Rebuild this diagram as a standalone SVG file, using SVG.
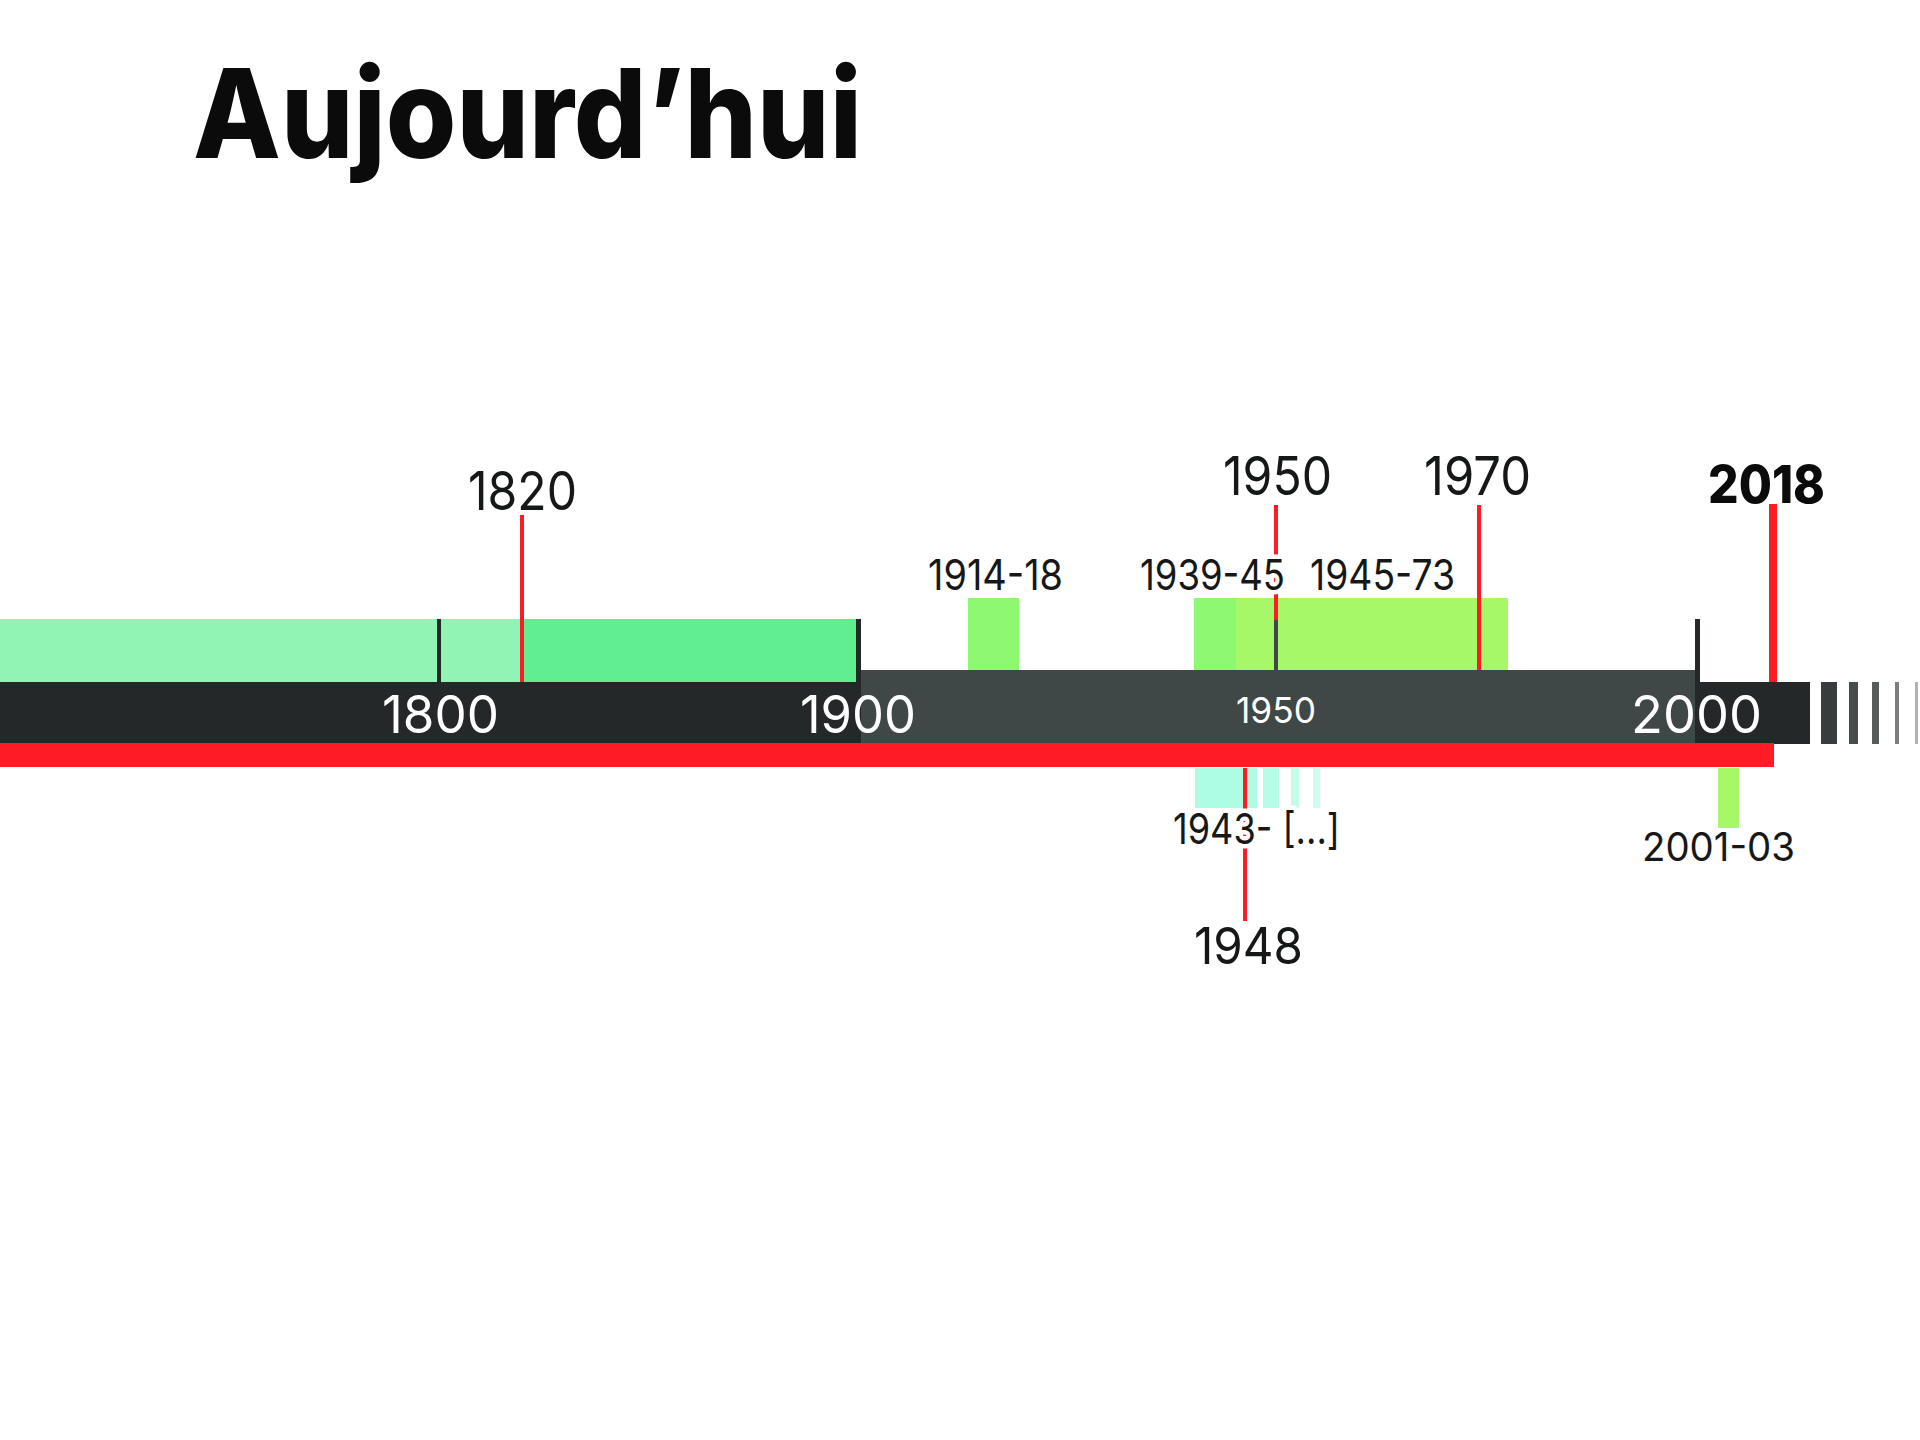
<svg xmlns="http://www.w3.org/2000/svg" width="1920" height="1440" viewBox="0 0 1920 1440">
  <style>
    .lbl { font-family: Inter, "Noto Sans", sans-serif; font-weight: 400; fill: #161818; }
    .big { font-size: 54px; }
    .mid { font-size: 42px; }
    .axis { font-family: Inter, "Noto Sans", sans-serif; font-weight: 400; fill: #ffffff; font-size: 52px; }
    .halo { stroke: #ffffff; stroke-width: 9px; stroke-linejoin: round; paint-order: stroke; }
    .red { fill: #fe1c24; }
    .tick { fill: #242828; }
  </style>
  <rect width="1920" height="1440" fill="#ffffff"/>

  <g id="title">
    <text x="193" y="158" font-family="Inter, 'Noto Sans', sans-serif" font-weight="800" font-size="124" fill="#0b0b0b" textLength="669" lengthAdjust="spacingAndGlyphs">Aujourd’hui</text>
  </g>

  <g id="periods">
    <rect id="period-pre1820" x="0" y="619" width="522" height="63" fill="#92f4b4"/>
    <rect id="period-1820-1900" x="522" y="619" width="336" height="63" fill="#61ee90"/>
    <rect id="period-1914-18" x="968" y="598" width="51" height="72" fill="#8ef873"/>
    <rect id="period-1939-45" x="1194" y="598" width="42" height="72" fill="#8ef873"/>
    <rect id="period-1945-73" x="1236" y="598" width="272" height="72" fill="#a6f868"/>
    <rect id="period-2001-03" x="1718" y="768" width="21" height="60" fill="#a6f868"/>
    <g id="period-1943">
      <rect x="1195" y="768" width="62" height="40" fill="#adfde4"/>
      <rect x="1263" y="768" width="16" height="40" fill="#b6fde7"/>
      <rect x="1291" y="768" width="8" height="40" fill="#c2fdec"/>
      <rect x="1313" y="768" width="7" height="40" fill="#cbfdf0"/>
    </g>
  </g>

  <g id="axis">
    <rect x="861" y="670" width="834" height="73" fill="#3f4747"/>
    <rect x="0" y="682" width="861" height="61" fill="#242828"/>
    <rect x="1695" y="682" width="115" height="62" fill="#242828"/>
    <rect x="1821" y="682" width="16" height="62" fill="#383c3c"/>
    <rect x="1849" y="682" width="9" height="62" fill="#464b4b"/>
    <rect x="1872" y="682" width="7" height="62" fill="#565b5b"/>
    <rect x="1895" y="682" width="4" height="62" fill="#7a7e7e"/>
    <rect x="1915" y="682" width="3" height="62" fill="#b0b3b3"/>
    <rect x="0" y="743" width="1774" height="24" fill="#fe1c24"/>
    <rect class="tick" x="437" y="619" width="4" height="63"/>
    <rect class="tick" x="856" y="619" width="5" height="63"/>
    <rect class="tick" x="1695" y="619" width="5" height="63"/>
    <rect x="1274" y="620" width="4" height="50" fill="#3f4747"/>
    <text class="axis" x="382" y="733" textLength="117" lengthAdjust="spacingAndGlyphs">1800</text>
    <text class="axis" x="800" y="733" textLength="116" lengthAdjust="spacingAndGlyphs">1900</text>
    <text class="axis" x="1236" y="723" style="font-size:36px" textLength="80" lengthAdjust="spacingAndGlyphs">1950</text>
    <text class="axis" x="1631" y="733" textLength="131" lengthAdjust="spacingAndGlyphs">2000</text>
  </g>

  <g id="connectors">
    <rect class="red" x="520" y="515" width="4" height="167"/>
    <rect class="red" x="1274" y="505" width="4" height="115"/>
    <rect class="red" x="1477" y="505" width="4" height="165"/>
    <rect class="red" x="1769" y="504" width="8" height="178"/>
    <rect class="red" x="1243" y="768" width="4" height="153"/>
  </g>

  <g id="markers">
    <text id="m1820" class="lbl big" x="468" y="510" textLength="109" lengthAdjust="spacingAndGlyphs">1820</text>
    <text id="m1950" class="lbl big" x="1223" y="495" textLength="109" lengthAdjust="spacingAndGlyphs">1950</text>
    <text id="m1970" class="lbl big" x="1424" y="495" textLength="107" lengthAdjust="spacingAndGlyphs">1970</text>
    <text id="m2018" x="1708" y="503" font-family="Inter, 'Noto Sans', sans-serif" font-weight="800" font-size="52" fill="#0b0b0b" textLength="117" lengthAdjust="spacingAndGlyphs">2018</text>
    <text id="m1948" class="lbl" x="1194" y="964" style="font-size:51px" textLength="109" lengthAdjust="spacingAndGlyphs">1948</text>
  </g>

  <g id="period-labels">
    <text class="lbl mid" x="928" y="590" textLength="135" lengthAdjust="spacingAndGlyphs">1914-18</text>
    <text class="lbl mid halo" x="1140" y="590" textLength="145" lengthAdjust="spacingAndGlyphs">1939-45</text>
    <text class="lbl mid" x="1310" y="590" textLength="145" lengthAdjust="spacingAndGlyphs">1945-73</text>
    <text class="lbl mid halo" x="1173" y="844" textLength="167" lengthAdjust="spacingAndGlyphs">1943- [...]</text>
    <text class="lbl" x="1642" y="861" style="font-size:39px" textLength="153" lengthAdjust="spacingAndGlyphs">2001-03</text>
  </g>
</svg>
